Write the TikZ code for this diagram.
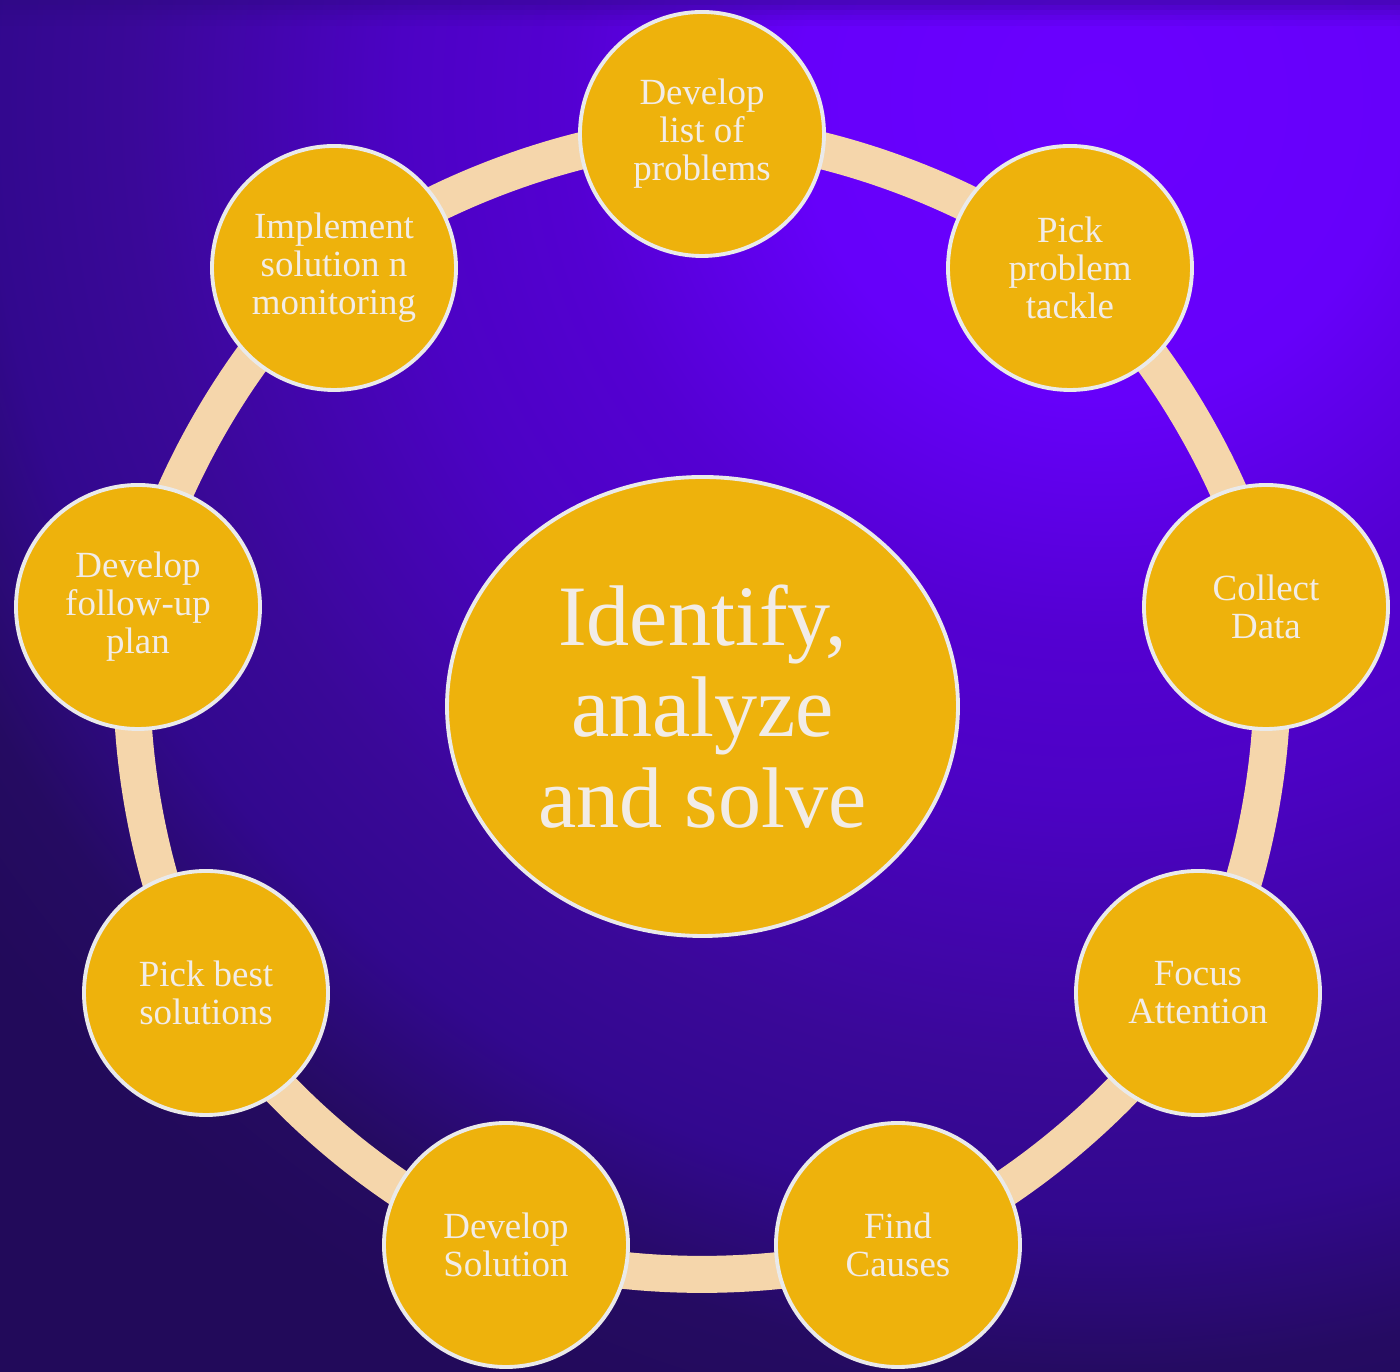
\documentclass[tikz,border=0pt]{standalone}
\usepackage{fontspec}
\setmainfont{Liberation Serif}
\usepackage{tikz}
\usetikzlibrary{shapes.geometric, backgrounds}

\definecolor{gold}{HTML}{EEB20C}
\definecolor{rimgray}{HTML}{EAEAEA}
\definecolor{cream}{HTML}{F2ECE6}
\definecolor{peach}{HTML}{F5D6AB}
\definecolor{topband}{HTML}{2E0A80}
\definecolor{glowa}{HTML}{6A00FF}
\definecolor{glowb}{HTML}{6600FA}
\definecolor{glowc}{HTML}{5400D2}
\definecolor{glowd}{HTML}{4C02C4}
\definecolor{glowe}{HTML}{3A0898}
\definecolor{glowf}{HTML}{32088E}
\definecolor{glowg}{HTML}{250B62}
\definecolor{glowh}{HTML}{220A5A}

% radial glow, 1cm = 1.25bp on a 40cm square
\pgfdeclareradialshading{bgglow}{\pgfpoint{0bp}{0bp}}{%
  color(0bp)=(glowa); color(3.75bp)=(glowb); color(6.625bp)=(glowc);
  color(8.75bp)=(glowd); color(12.125bp)=(glowe); color(13.875bp)=(glowf);
  color(15.875bp)=(glowg); color(17.5bp)=(glowh); color(50bp)=(glowh)}

\begin{document}
\begin{tikzpicture}[
  stage/.style={circle, draw=rimgray, line width=1.1pt, fill=gold,
    minimum size=2.44cm, inner sep=0pt, align=center, text=cream,
    font=\fontsize{10.5}{10.8}\selectfont},
  hub/.style={ellipse, draw=rimgray, line width=1.1pt, fill=gold,
    minimum width=5.11cm, minimum height=4.59cm, inner sep=0pt,
    align=center, text=cream, font=\fontsize{24.5}{25.9}\selectfont},
  ring/.style={draw=peach, line width=0.37cm}
]
\useasboundingbox (0,0) rectangle (14,13.72);

% background
\begin{scope}[on background layer]
\clip (0,0) rectangle (14,13.72);
\shade[shading=bgglow] (-9,-7.28) rectangle (31,32.72);
\fill[topband, opacity=0.50] (0,13.67) rectangle (14,13.72);
\fill[topband, opacity=0.38] (0,13.62) rectangle (14,13.67);
\fill[topband, opacity=0.26] (0,13.57) rectangle (14,13.62);
\fill[topband, opacity=0.16] (0,13.52) rectangle (14,13.57);
\fill[topband, opacity=0.07] (0,13.46) rectangle (14,13.52);
\end{scope}

% center
\node[hub] (c) at (7.025,6.655) {Identify,\\analyze\\and solve};

% steps
\node[stage] (s0) at (7.02,12.38) {Develop\\list of\\problems};
\node[stage] (s1) at (10.70,11.04) {Pick\\problem\\tackle};
\node[stage] (s2) at (12.66,7.65) {Collect\\Data};
\node[stage] (s3) at (11.98,3.79) {Focus\\Attention};
\node[stage] (s4) at (8.98,1.27) {Find\\Causes};
\node[stage] (s5) at (5.06,1.27) {Develop\\Solution};
\node[stage] (s6) at (2.06,3.79) {Pick best\\solutions};
\node[stage] (s7) at (1.38,7.65) {Develop\\follow-up\\plan};
\node[stage] (s8) at (3.34,11.04) {Implement\\solution n\\monitoring};

% ring
\begin{scope}[on background layer]
\draw[ring] (s0.center) to[bend left=20, looseness=0.75] (s1.center);
\draw[ring] (s1.center) to[bend left=20, looseness=0.75] (s2.center);
\draw[ring] (s2.center) to[bend left=20, looseness=0.75] (s3.center);
\draw[ring] (s3.center) to[bend left=20, looseness=0.75] (s4.center);
\draw[ring] (s4.center) to[bend left=20, looseness=0.75] (s5.center);
\draw[ring] (s5.center) to[bend left=20, looseness=0.75] (s6.center);
\draw[ring] (s6.center) to[bend left=20, looseness=0.75] (s7.center);
\draw[ring] (s7.center) to[bend left=20, looseness=0.75] (s8.center);
\draw[ring] (s8.center) to[bend left=20, looseness=0.75] (s0.center);
\end{scope}

\end{tikzpicture}
\end{document}
